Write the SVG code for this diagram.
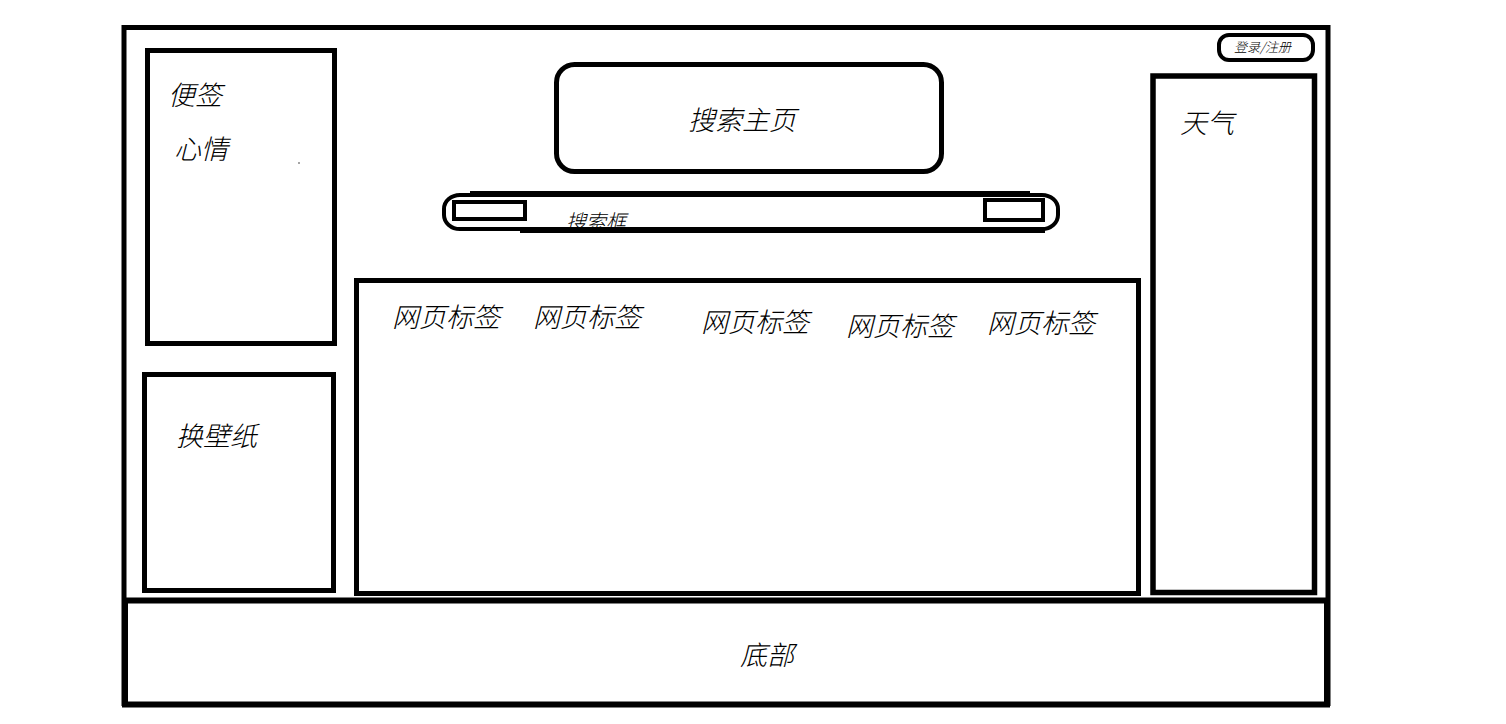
<svg xmlns="http://www.w3.org/2000/svg" width="1506" height="724" viewBox="0 0 1506 724">
<style>
.box{fill:none;stroke:#000;stroke-width:5}
.t{font-family:"Noto Sans CJK SC","Noto Sans",sans-serif;font-style:italic;font-weight:300;fill:#000;font-size:27px}
</style>
<rect width="1506" height="724" fill="#fff"/>
<g id="frame">
<rect class="box" x="124" y="27.5" width="1204" height="676"/>
</g>
<g id="footer">
<rect x="125" y="600.5" width="1202" height="104" fill="#fff" stroke="#000" stroke-width="6"/>
<text class="t" x="740" y="665">底部</text>
</g>
<g id="login">
<rect x="1219" y="35" width="94" height="25" rx="10" fill="none" stroke="#000" stroke-width="4"/>
<text class="t" x="1234" y="52" style="font-size:13px">登录/注册</text>
</g>
<g id="notes">
<rect class="box" x="147.5" y="50.5" width="187" height="293"/>
<text class="t" x="168" y="105">便签</text>
<text class="t" x="174" y="159">心情</text>
<circle cx="299" cy="163" r="0.8" fill="#333"/>
</g>
<g id="wallpaper">
<rect class="box" x="144.5" y="374.5" width="189" height="216"/>
<text class="t" x="176" y="446">换壁纸</text>
</g>
<g id="search-home">
<rect class="box" x="556.5" y="64.5" width="385" height="107" rx="18"/>
<text class="t" x="688" y="130">搜索主页</text>
</g>
<g id="search-box">
<text class="t" x="566" y="229" style="font-size:20px">搜索框</text>
<rect x="444" y="195" width="614" height="34" rx="16" ry="14" fill="none" stroke="#000" stroke-width="4"/>
<line x1="470" y1="193.5" x2="1030" y2="193.5" stroke="#000" stroke-width="5"/>
<line x1="520" y1="230.5" x2="1045" y2="230.5" stroke="#000" stroke-width="5"/>
<rect x="454" y="202" width="71" height="17" fill="none" stroke="#000" stroke-width="4"/>
<rect x="985" y="200" width="58" height="20" fill="none" stroke="#000" stroke-width="4"/>
</g>
<g id="tabs">
<rect class="box" x="356.5" y="280.5" width="782" height="313"/>
<text class="t" x="392" y="327">网页标签</text>
<text class="t" x="533" y="327">网页标签</text>
<text class="t" x="701" y="332">网页标签</text>
<text class="t" x="846" y="336">网页标签</text>
<text class="t" x="987" y="333">网页标签</text>
</g>
<g id="weather">
<rect x="1153" y="76" width="161.5" height="516.5" fill="none" stroke="#000" stroke-width="5.5"/>
<text class="t" x="1180" y="133">天气</text>
</g>
<g id="connectors"/>
</svg>
